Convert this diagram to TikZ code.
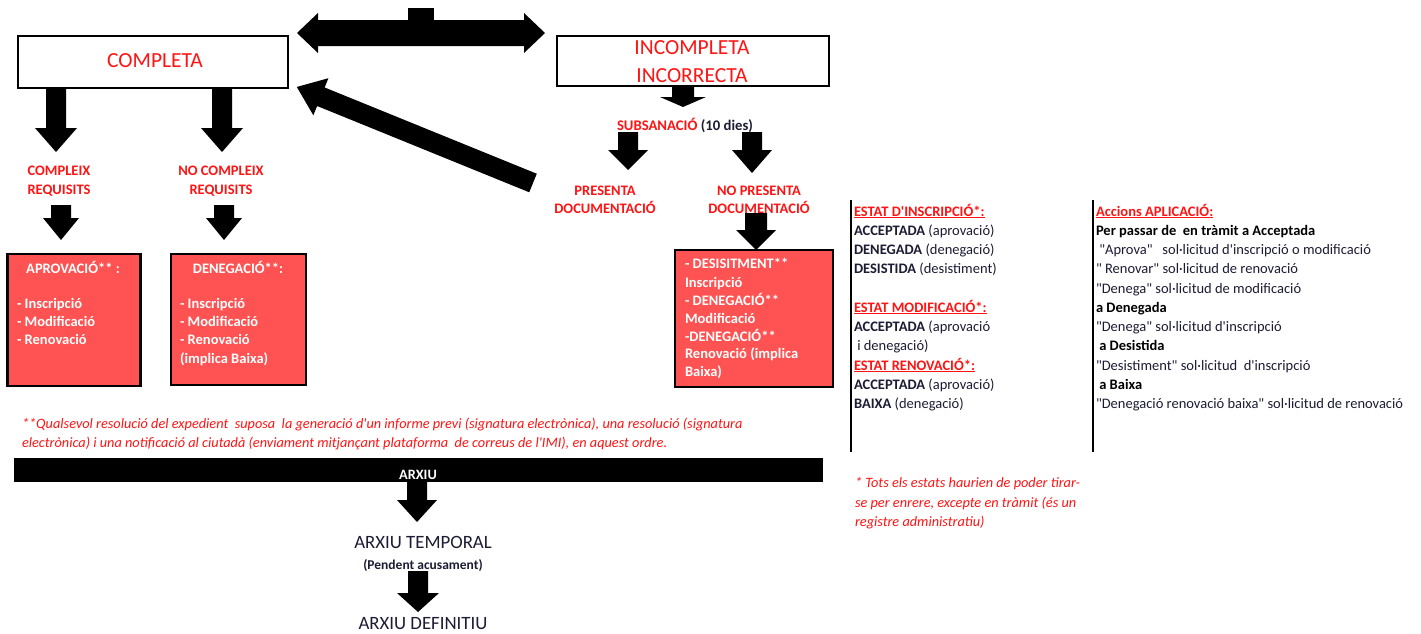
\documentclass[tikz,border=0pt]{standalone}
\usepackage{fontspec}
\setmainfont{Carlito}[Ligatures=TeXOff]
\definecolor{myred}{RGB}{255,20,20}
\definecolor{boxred}{RGB}{255,82,82}
\definecolor{ink}{RGB}{28,28,52}
\newcommand{\bdarrow}[6]{%
  \fill (#1-#5,#2) -- (#1+#5,#2) -- (#1+#5,#3) -- (#1+#6,#3) -- (#1,#4) -- (#1-#6,#3) -- (#1-#5,#3) -- cycle;}
\newcommand{\fsz}[1]{\fontsize{#1}{#1}\selectfont}
\begin{document}
\begin{tikzpicture}[x=1pt,y=-1pt,
  every node/.style={inner sep=0pt, outer sep=0pt},
  whitebox/.style={draw=black, line width=2pt, fill=white},
  redbox/.style={draw=black, line width=2.6pt, fill=boxred},
  bigred/.style={text=myred, font=\fsz{21.5}, anchor=base},
  redlbl/.style={text=myred, font=\fsz{14.5}\bfseries, anchor=base},
  boxtxt/.style={text=white, font=\fsz{14.5}\bfseries, anchor=base west},
  boxhead/.style={text=white, font=\fsz{14.5}\bfseries, anchor=base},
  inktxt/.style={text=ink, font=\fsz{14.5}, anchor=base west},
  inkbold/.style={text=black, font=\fsz{14.5}\bfseries, anchor=base west},
  redhead/.style={text=myred, font=\fsz{14.5}\bfseries, anchor=base west},
  note/.style={text=myred, font=\fsz{14.3}\itshape, anchor=base west},
  rule/.style={line width=2.2pt, draw=black}]
\useasboundingbox (0,0) rectangle (1421,633);
\fill[white] (0,0) rectangle (1421,633);

% top boxes
\node[whitebox, minimum width=270pt, minimum height=52pt] (comp) at (153,62) {};
\node[bigred] (compt) at (155,67) {COMPLETA};
\node[whitebox, minimum width=272pt, minimum height=50pt] (incomp) at (693,61) {};
\node[bigred] (inc1) at (692,54) {INCOMPLETA};
\node[bigred] (inc2) at (692,82) {INCORRECTA};

% double arrow with stub
\fill (297,33) -- (318,13) -- (318,20) -- (524,20) -- (524,13) -- (545,33) -- (524,53) -- (524,46) -- (318,46) -- (318,53) -- cycle;
\fill (408,8) rectangle (434,21);

% diagonal arrow back to COMPLETA
\begin{scope}[shift={(533,183)}, rotate=157.87]
  \fill (0,-10) -- (229,-10) -- (229,-20) -- (255,0) -- (229,20) -- (229,10) -- (0,10) -- cycle;
\end{scope}

% arrows under COMPLETA
\bdarrow{56}{88}{128}{152}{10}{21}
\bdarrow{222}{88}{128}{152}{10}{21}
\node[redlbl] (cr1) at (59,175) {COMPLEIX};
\node[redlbl] (cr2) at (59,194) {REQUISITS};
\node[redlbl] (ncr1) at (221,175) {NO COMPLEIX};
\node[redlbl] (ncr2) at (221,194) {REQUISITS};
\bdarrow{61}{205}{218}{240}{10}{18}
\bdarrow{224}{205}{218}{240}{10}{18}

% red boxes left
\node[redbox, minimum width=133pt, minimum height=132pt] (aprov) at (74,320) {};
\node[boxhead] (ap0) at (73,273.5) {APROVACIÓ** :};
\node[boxtxt] (ap1) at (17,308.5) {- Inscripció};
\node[boxtxt] (ap2) at (17,326.5) {- Modificació};
\node[boxtxt] (ap3) at (17,344.5) {- Renovació};
\node[redbox, minimum width=135pt, minimum height=131pt] (deneg) at (238.5,319.5) {};
\node[boxhead] (dn0) at (238,273.5) {DENEGACIÓ**:};
\node[boxtxt] (dn1) at (180,308.5) {- Inscripció};
\node[boxtxt] (dn2) at (180,326.5) {- Modificació};
\node[boxtxt] (dn3) at (180,344.5) {- Renovació};
\node[boxtxt] (dn4) at (180,363.5) {(implica Baixa)};

% subsanacio branch
\bdarrow{683}{86}{97}{107}{11}{23}
\node[anchor=base, font=\fsz{14.7}\bfseries] (subs) at (685,130) {\textcolor{myred}{SUBSANACIÓ} \textcolor{ink}{(10 dies)}};
\bdarrow{628}{132}{150}{170}{10}{20}
\bdarrow{752}{132}{150}{173}{10}{20}
\node[redlbl] (pr1) at (605,195) {PRESENTA};
\node[redlbl] (pr2) at (605,213) {DOCUMENTACIÓ};
\node[redlbl] (npr1) at (759,195) {NO PRESENTA};
\node[redlbl] (npr2) at (759,213) {DOCUMENTACIÓ};
\bdarrow{756}{213}{230}{250}{11}{20}

\node[redbox, minimum width=158pt, minimum height=137pt] (desist) at (754,318.5) {};
\node[boxtxt] (ds1) at (685,268.5) {- DESISITMENT**};
\node[boxtxt] (ds2) at (685,287.5) {Inscripció};
\node[boxtxt] (ds3) at (685,305.5) {- DENEGACIÓ**};
\node[boxtxt] (ds4) at (685,323.5) {Modificació};
\node[boxtxt] (ds5) at (685,341.5) {-DENEGACIÓ**};
\node[boxtxt] (ds6) at (685,358.5) {Renovació (implica};
\node[boxtxt] (ds7) at (685,376.5) {Baixa)};

% vertical rules
\coordinate (v1a) at (851,200); \coordinate (v1b) at (851,452);
\coordinate (v2a) at (1093,200); \coordinate (v2b) at (1093,452);
\draw[rule] (v1a) -- (v1b);
\draw[rule] (v2a) -- (v2b);

% estat block
\node[redhead] (e1) at (854,216) {\underline{ESTAT D'INSCRIPCIÓ*:}};
\node[inktxt] (e2) at (854,235) {\textbf{ACCEPTADA} (aprovació)};
\node[inktxt] (e3) at (854,254) {\textbf{DENEGADA} (denegació)};
\node[inktxt] (e4) at (854,273) {\textbf{DESISTIDA} (desistiment)};
\node[redhead] (e5) at (854,312) {\underline{ESTAT MODIFICACIÓ*:}};
\node[inktxt] (e6) at (854,331) {\textbf{ACCEPTADA} (aprovació};
\node[inktxt] (e7) at (854,350) {\ i denegació)};
\node[redhead] (e8) at (854,370) {\underline{ESTAT RENOVACIÓ*:}};
\node[inktxt] (e9) at (854,389) {\textbf{ACCEPTADA} (aprovació)};
\node[inktxt] (e10) at (854,408) {\textbf{BAIXA} (denegació)};

% accions block
\node[redhead] (a1) at (1096,216) {\underline{Accions APLICACIÓ:}};
\node[inkbold] (a2) at (1096,235) {Per passar de \ en tràmit a Acceptada};
\node[inktxt] (a3) at (1096,254) {\ "Aprova" \ \ sol·licitud d'inscripció o modificació};
\node[inktxt] (a4) at (1096,273) {" Renovar" sol·licitud de renovació};
\node[inktxt] (a5) at (1096,293) {"Denega" sol·licitud de modificació};
\node[inkbold] (a6) at (1096,312) {a Denegada};
\node[inktxt] (a7) at (1096,331) {"Denega" sol·licitud d'inscripció};
\node[inkbold] (a8) at (1096,350) {\ a Desistida};
\node[inktxt] (a9) at (1096,370) {"Desistiment" sol·licitud \ d'inscripció};
\node[inkbold] (a10) at (1096,389) {\ a Baixa};
\node[inktxt] (a11) at (1096,408) {"Denegació renovació baixa" sol·licitud de renovació};

% footnote
\node[note] (fn1) at (22,428) {**Qualsevol resolució del expedient \ suposa \ la generació d'un informe previ (signatura electrònica), una resolució (signatura};
\node[note] (fn2) at (22,447) {electrònica) i una notificació al ciutadà (enviament mitjançant plataforma \ de correus de l'IMI), en aquest ordre.};

% asterisk note
\node[note] (n1) at (855,487) {* Tots els estats haurien de poder tirar-};
\node[note] (n2) at (855,507) {se per enrere, excepte en tràmit (és un};
\node[note] (n3) at (855,526) {registre administratiu)};

% archive bar
\node[fill=black, minimum width=809pt, minimum height=24pt] (bar) at (418.5,470) {};
\node[anchor=base, text=white, font=\fsz{14.3}\bfseries] (barT) at (418,479.5) {ARXIU};
\bdarrow{417}{482}{500}{522}{10}{20}
\node[anchor=base, text=ink, font=\fsz{18.8}] (temp) at (423,548) {ARXIU TEMPORAL};
\node[anchor=base, text=ink, font=\fsz{13.5}\bfseries] (pend) at (423,569.5) {(Pendent acusament)};
\bdarrow{418}{571}{593}{612}{10}{21}
\node[anchor=base, text=ink, font=\fsz{18.8}] (defin) at (423,629) {ARXIU DEFINITIU};
\end{tikzpicture}
\end{document}
